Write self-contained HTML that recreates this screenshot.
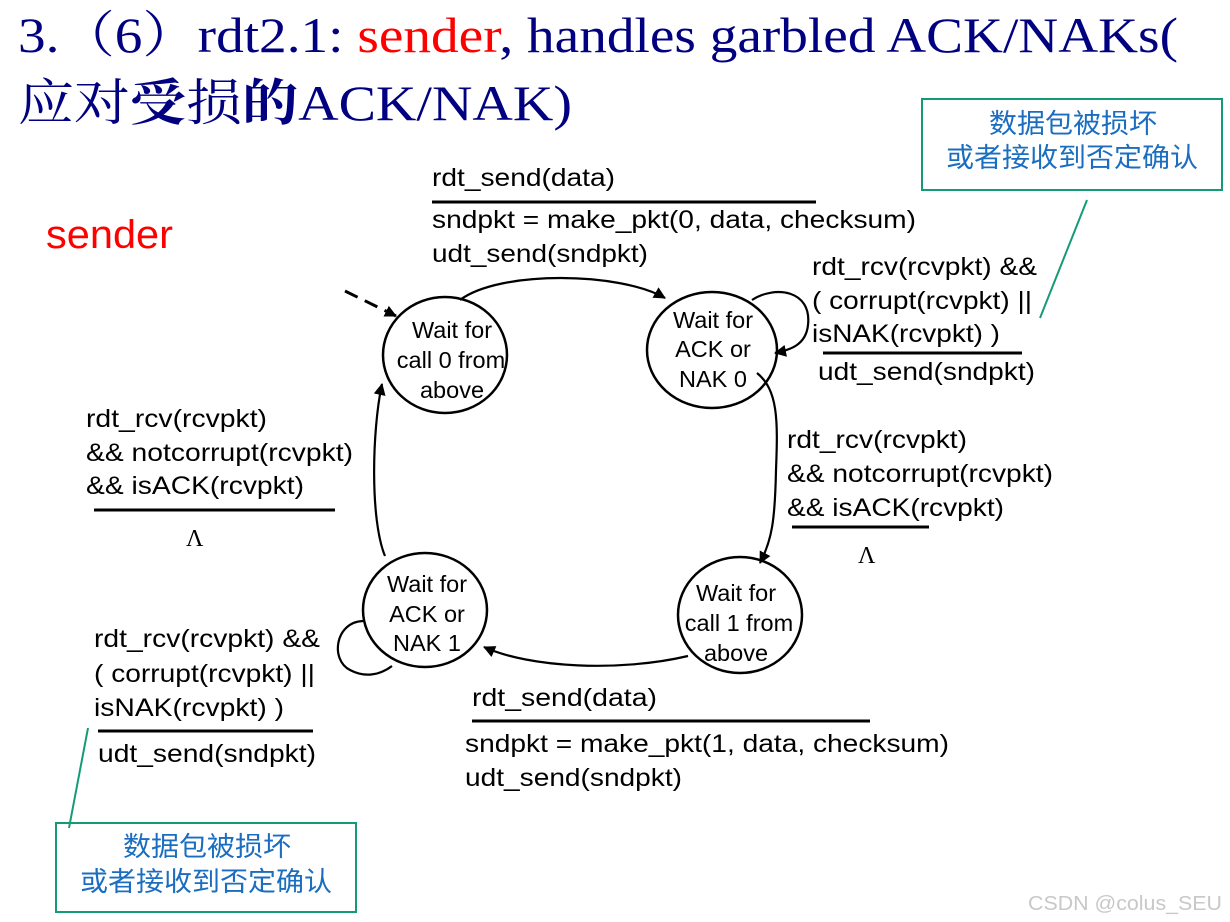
<!DOCTYPE html>
<html><head><meta charset="utf-8"><style>
body{margin:0;background:#fff;width:1230px;height:922px;overflow:hidden}
svg{display:block}
.t{font-family:"Liberation Sans",Arial,sans-serif;font-size:25px;fill:#000}
.s{font-family:"Liberation Sans",Arial,sans-serif;font-size:23.5px;fill:#000}
.c{font-family:"Liberation Sans","Noto Sans CJK SC",sans-serif;font-size:27px;fill:#1a6dbf}
</style></head><body>
<svg width="1230" height="922" viewBox="0 0 1230 922" xmlns="http://www.w3.org/2000/svg">
<defs><marker id="a" markerWidth="12" markerHeight="12" refX="11" refY="6" orient="auto" markerUnits="userSpaceOnUse"><path d="M0,0 L12,6 L0,12 z" fill="#000"/></marker></defs>
<text x="18" y="52" textLength="1160" lengthAdjust="spacingAndGlyphs" style="font-family:'Liberation Serif','Noto Serif CJK SC',serif;font-size:50px;fill:#000080">3.（6）rdt2.1: <tspan fill="#ff0000">sender</tspan>, handles garbled ACK/NAKs(</text>
<text x="18" y="120" textLength="554" lengthAdjust="spacingAndGlyphs" style="font-family:'Liberation Serif','Noto Serif CJK SC',serif;font-size:50px;fill:#000080">应对<tspan font-weight="bold">受</tspan>损<tspan font-weight="bold">的</tspan>ACK/NAK)</text>
<text x="46" y="248" textLength="127" lengthAdjust="spacingAndGlyphs" style="font-family:'Liberation Sans',sans-serif;font-size:40px;fill:#ff0000">sender</text>

<rect x="922" y="99" width="300" height="91" fill="none" stroke="#159a78" stroke-width="2"/>
<text class="c" x="989" y="133" textLength="168" lengthAdjust="spacingAndGlyphs">数据包被损坏</text>
<text class="c" x="946" y="167" textLength="252" lengthAdjust="spacingAndGlyphs">或者接收到否定确认</text>
<line x1="1087" y1="200" x2="1040" y2="318" stroke="#159a78" stroke-width="2"/>
<rect x="56" y="823" width="300" height="89" fill="none" stroke="#159a78" stroke-width="2"/>
<text class="c" x="123" y="856" textLength="168" lengthAdjust="spacingAndGlyphs">数据包被损坏</text>
<text class="c" x="80" y="891" textLength="252" lengthAdjust="spacingAndGlyphs">或者接收到否定确认</text>
<line x1="69" y1="828" x2="88" y2="728" stroke="#159a78" stroke-width="2"/>

<g fill="none" stroke="#000" stroke-width="2.5">
<ellipse cx="445" cy="355" rx="62" ry="58"/>
<ellipse cx="712" cy="350" rx="65" ry="58"/>
<ellipse cx="425" cy="610" rx="62" ry="57"/>
<ellipse cx="740" cy="615" rx="62" ry="58"/>
</g>
<g fill="none" stroke="#000" stroke-width="2.2">
<line x1="345" y1="291" x2="396" y2="316" stroke-dasharray="14,8" stroke-width="3" marker-end="url(#a)"/>
<path d="M460,300 C500,270 620,272 665,298" marker-end="url(#a)"/>
<path d="M757,373 C778,390 778,420 776,470 C775,520 772,540 760,563" marker-end="url(#a)"/>
<path d="M688,656 C620,672 530,668 484,647" marker-end="url(#a)"/>
<path d="M385,556 C370,520 372,430 382,384" marker-end="url(#a)"/>
<path d="M752,300 C775,285 812,290 808,325 C806,345 790,350 775,353" marker-end="url(#a)"/>
<path d="M363,621 C335,622 330,660 350,670 C365,678 380,675 392,666"/>
</g>

<text class="t" x="432" y="186" textLength="183" lengthAdjust="spacingAndGlyphs">rdt_send(data)</text>
<line x1="432" y1="202" x2="816" y2="202" stroke="#000" stroke-width="3"/>
<text class="t" x="432" y="228" textLength="484" lengthAdjust="spacingAndGlyphs">sndpkt = make_pkt(0, data, checksum)</text>
<text class="t" x="432" y="262" textLength="216" lengthAdjust="spacingAndGlyphs">udt_send(sndpkt)</text>

<text class="t" x="812" y="275" textLength="225" lengthAdjust="spacingAndGlyphs">rdt_rcv(rcvpkt) &amp;&amp;</text>
<text class="t" x="812" y="309" textLength="220" lengthAdjust="spacingAndGlyphs">( corrupt(rcvpkt) ||</text>
<text class="t" x="812" y="342" textLength="188" lengthAdjust="spacingAndGlyphs">isNAK(rcvpkt) )</text>
<line x1="823" y1="353" x2="1022" y2="353" stroke="#000" stroke-width="3"/>
<text class="t" x="818" y="380" textLength="217" lengthAdjust="spacingAndGlyphs">udt_send(sndpkt)</text>

<text class="t" x="787" y="448" textLength="180" lengthAdjust="spacingAndGlyphs">rdt_rcv(rcvpkt)</text>
<text class="t" x="787" y="482" textLength="266" lengthAdjust="spacingAndGlyphs">&amp;&amp; notcorrupt(rcvpkt)</text>
<text class="t" x="787" y="516" textLength="217" lengthAdjust="spacingAndGlyphs">&amp;&amp; isACK(rcvpkt)</text>
<line x1="792" y1="527" x2="929" y2="527" stroke="#000" stroke-width="3"/>
<text x="858" y="563" style="font-family:'Liberation Serif',serif;font-size:24px">Λ</text>

<text class="t" x="86" y="427" textLength="181" lengthAdjust="spacingAndGlyphs">rdt_rcv(rcvpkt)</text>
<text class="t" x="86" y="461" textLength="267" lengthAdjust="spacingAndGlyphs">&amp;&amp; notcorrupt(rcvpkt)</text>
<text class="t" x="86" y="494" textLength="218" lengthAdjust="spacingAndGlyphs">&amp;&amp; isACK(rcvpkt)</text>
<line x1="94" y1="510" x2="335" y2="510" stroke="#000" stroke-width="3"/>
<text x="186" y="546" style="font-family:'Liberation Serif',serif;font-size:24px">Λ</text>

<text class="t" x="94" y="647" textLength="226" lengthAdjust="spacingAndGlyphs">rdt_rcv(rcvpkt) &amp;&amp;</text>
<text class="t" x="94" y="682" textLength="221" lengthAdjust="spacingAndGlyphs">( corrupt(rcvpkt) ||</text>
<text class="t" x="94" y="716" textLength="190" lengthAdjust="spacingAndGlyphs">isNAK(rcvpkt) )</text>
<line x1="98" y1="731" x2="313" y2="731" stroke="#000" stroke-width="3"/>
<text class="t" x="98" y="762" textLength="218" lengthAdjust="spacingAndGlyphs">udt_send(sndpkt)</text>

<text class="t" x="472" y="706" textLength="185" lengthAdjust="spacingAndGlyphs">rdt_send(data)</text>
<line x1="472" y1="721" x2="870" y2="721" stroke="#000" stroke-width="3"/>
<text class="t" x="465" y="752" textLength="484" lengthAdjust="spacingAndGlyphs">sndpkt = make_pkt(1, data, checksum)</text>
<text class="t" x="465" y="786" textLength="217" lengthAdjust="spacingAndGlyphs">udt_send(sndpkt)</text>

<g class="s" text-anchor="middle">
<text x="452" y="338">Wait for</text><text x="451" y="368">call 0 from</text><text x="452" y="398">above</text>
<text x="713" y="328">Wait for</text><text x="713" y="357">ACK or</text><text x="713" y="387">NAK 0</text>
<text x="427" y="592">Wait for</text><text x="427" y="622">ACK or</text><text x="427" y="651">NAK 1</text>
<text x="736" y="601">Wait for</text><text x="739" y="631">call 1 from</text><text x="736" y="661">above</text>
</g>
<text x="1028" y="910" textLength="194" lengthAdjust="spacingAndGlyphs" style="font-family:'Liberation Sans',sans-serif;font-size:20px;fill:#c8c8c8">CSDN @colus_SEU</text>
</svg>
</body></html>
